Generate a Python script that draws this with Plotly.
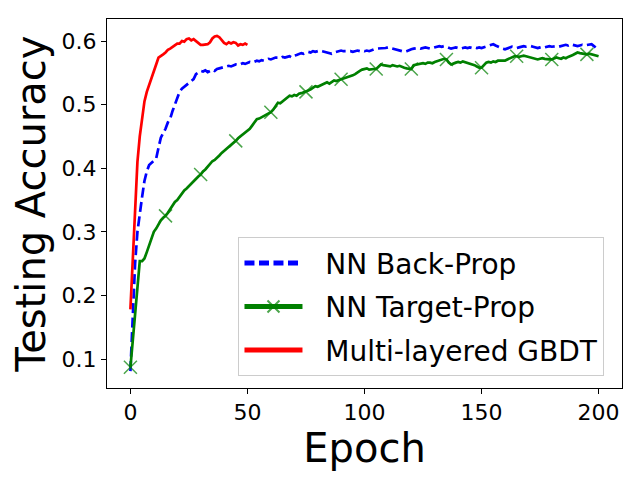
import plotly.graph_objects as go

FONT = "DejaVu Sans"
BLUE = "#0000ff"
GREEN = "#008000"
RED = "#ff0000"

# epochs for the two neural-net runs (0..200) and the GBDT run (0..50)
nn_epochs = list(range(0, 201))
gbdt_epochs = list(range(0, 51))

back_prop = [
    0.081, 0.170, 0.250, 0.300, 0.330, 0.355, 0.380, 0.395, 0.405, 0.408,
    0.412, 0.415, 0.432, 0.448, 0.455, 0.462, 0.472, 0.478, 0.490, 0.500,
    0.512, 0.520, 0.525, 0.528, 0.532, 0.535, 0.537, 0.540, 0.548, 0.550,
    0.553, 0.552, 0.554, 0.551, 0.553, 0.555, 0.553, 0.556, 0.557, 0.558,
    0.558, 0.560, 0.561, 0.560, 0.562, 0.563, 0.562, 0.563, 0.565, 0.564,
    0.566, 0.567, 0.566, 0.568, 0.569, 0.568, 0.570, 0.569, 0.571, 0.572,
    0.571, 0.573, 0.574, 0.574, 0.573, 0.575, 0.574, 0.575, 0.576, 0.574,
    0.577, 0.578, 0.579, 0.581, 0.580, 0.582, 0.583, 0.582, 0.584, 0.583,
    0.584, 0.585, 0.584, 0.583, 0.582, 0.581, 0.580, 0.582, 0.583, 0.584,
    0.585, 0.584, 0.584, 0.585, 0.584, 0.583, 0.584, 0.585, 0.584, 0.585,
    0.584, 0.585, 0.584, 0.586, 0.587, 0.588, 0.588, 0.589, 0.588, 0.589,
    0.590, 0.589, 0.588, 0.587, 0.586, 0.585, 0.584, 0.583, 0.584, 0.586,
    0.587, 0.588, 0.589, 0.589, 0.588, 0.589, 0.590, 0.589, 0.588, 0.589,
    0.590, 0.591, 0.592, 0.591, 0.592, 0.591, 0.589, 0.588, 0.589, 0.590,
    0.589, 0.588, 0.589, 0.590, 0.589, 0.590, 0.589, 0.590, 0.589, 0.590,
    0.589, 0.590, 0.591, 0.593, 0.594, 0.595, 0.593, 0.591, 0.589, 0.588,
    0.587, 0.588, 0.590, 0.591, 0.590, 0.589, 0.590, 0.591, 0.592, 0.591,
    0.592, 0.592, 0.591, 0.590, 0.589, 0.590, 0.591, 0.590, 0.591, 0.592,
    0.591, 0.592, 0.592, 0.591, 0.592, 0.593, 0.594, 0.593, 0.595, 0.594,
    0.593, 0.592, 0.593, 0.594, 0.593, 0.594, 0.595, 0.595, 0.592, 0.589,
    0.588,
]

target_prop = [
    0.087, 0.130, 0.175, 0.220, 0.254, 0.254, 0.258, 0.268, 0.278, 0.290,
    0.300, 0.305, 0.312, 0.318, 0.322, 0.325, 0.330, 0.336, 0.342, 0.347,
    0.350, 0.355, 0.360, 0.365, 0.368, 0.372, 0.376, 0.380, 0.384, 0.387,
    0.390, 0.395, 0.398, 0.402, 0.406, 0.411, 0.413, 0.416, 0.420, 0.424,
    0.427, 0.430, 0.434, 0.437, 0.440, 0.443, 0.447, 0.450, 0.453, 0.456,
    0.458, 0.462, 0.467, 0.472, 0.477, 0.478, 0.480, 0.483, 0.485, 0.487,
    0.488, 0.492, 0.498, 0.503, 0.502, 0.505, 0.508, 0.512, 0.514, 0.513,
    0.515, 0.514, 0.517, 0.518, 0.519, 0.520, 0.522, 0.524, 0.527, 0.529,
    0.528, 0.530, 0.532, 0.534, 0.535, 0.533, 0.536, 0.538, 0.537, 0.539,
    0.540, 0.541, 0.542, 0.544, 0.545, 0.546, 0.548, 0.551, 0.553, 0.555,
    0.556, 0.557, 0.555, 0.556, 0.556, 0.556, 0.560, 0.563, 0.562, 0.561,
    0.561, 0.560, 0.562, 0.561, 0.560, 0.561, 0.559, 0.558, 0.557, 0.556,
    0.556, 0.562, 0.563, 0.563, 0.564, 0.565, 0.564, 0.566, 0.566, 0.565,
    0.567, 0.568, 0.570, 0.571, 0.572, 0.571, 0.566, 0.563, 0.565, 0.566,
    0.567, 0.566, 0.568, 0.567, 0.566, 0.565, 0.563, 0.562, 0.560, 0.558,
    0.558, 0.562, 0.566, 0.567, 0.566, 0.568, 0.567, 0.569, 0.569, 0.570,
    0.569, 0.571, 0.573, 0.575, 0.576, 0.576, 0.575, 0.576, 0.577, 0.576,
    0.575, 0.574, 0.572, 0.571, 0.571, 0.572, 0.573, 0.572, 0.571, 0.571,
    0.571, 0.573, 0.574, 0.573, 0.572, 0.574, 0.573, 0.575, 0.576, 0.578,
    0.580, 0.582, 0.581, 0.580, 0.579, 0.579, 0.580, 0.579, 0.578, 0.577,
    0.576,
]

gbdt = [
    0.178, 0.260, 0.340, 0.410, 0.450, 0.480, 0.505, 0.520, 0.530, 0.542,
    0.552, 0.563, 0.574, 0.576, 0.579, 0.582, 0.586, 0.588, 0.591, 0.593,
    0.596, 0.596, 0.600, 0.599, 0.603, 0.604, 0.601, 0.603, 0.600, 0.597,
    0.594, 0.594, 0.594, 0.595, 0.598, 0.604, 0.607, 0.608, 0.606, 0.601,
    0.597, 0.595, 0.598, 0.596, 0.598, 0.597, 0.593, 0.595, 0.594, 0.596,
    0.594,
]

x_ticks = [0, 50, 100, 150, 200]
y_ticks = [0.1, 0.2, 0.3, 0.4, 0.5, 0.6]

MARK_EVERY = 15
marker_sizes = [13 if i % MARK_EVERY == 0 else 0 for i in range(len(target_prop))]

# non-breaking spaces push legend text away from the line sample
PAD = "\u00a0\u00a0"

fig = go.Figure()
fig.add_trace(go.Scatter(
    x=nn_epochs, y=back_prop, mode="lines", name=PAD + "NN Back-Prop",
    legendgroup="a",
    line=dict(color=BLUE, width=2.7, dash="10px,4.5px"),
))
fig.add_trace(go.Scatter(
    x=nn_epochs, y=target_prop, mode="lines+markers", name=PAD + "NN Target-Prop",
    legendgroup="b",
    line=dict(color=GREEN, width=2.7),
    marker=dict(symbol="x-thin", size=marker_sizes, color=GREEN,
                line=dict(color=GREEN, width=1.5)),
))
fig.add_trace(go.Scatter(
    x=gbdt_epochs, y=gbdt, mode="lines", name=PAD + "Multi-layered GBDT",
    legendgroup="c",
    line=dict(color=RED, width=2.7),
))

axis_common = dict(
    showline=True, mirror=True, linecolor="black", linewidth=1,
    ticks="outside", ticklen=5, tickwidth=1, tickcolor="black",
    showgrid=False, zeroline=False,
    tickfont=dict(family=FONT, size=22, color="black"),
)

# the page body has an 8px margin, so the figure is 8px smaller than the window
fig.update_layout(
    width=632, height=472,
    paper_bgcolor="white", plot_bgcolor="white",
    margin=dict(l=99, r=18, t=11, b=92),
    font=dict(family=FONT, color="black"),
    xaxis=dict(
        range=[-10, 210], tickvals=x_ticks,
        title=dict(text="Epoch", font=dict(family=FONT, size=40), standoff=2),
        **axis_common,
    ),
    yaxis=dict(
        range=[0.0544, 0.6346], tickvals=y_ticks, tickformat=".1f",
        title=dict(text="Testing Accuracy", font=dict(family=FONT, size=40), standoff=10),
        **axis_common,
    ),
    legend=dict(
        x=0.2553, y=0.0314, xanchor="left", yanchor="bottom",
        bgcolor="rgba(255,255,255,0.8)", bordercolor="#cccccc", borderwidth=1,
        font=dict(family=FONT, size=28, color="black"),
        itemsizing="constant", itemwidth=58, tracegroupgap=4,
    ),
    showlegend=True,
)

fig.write_html("out.html")
